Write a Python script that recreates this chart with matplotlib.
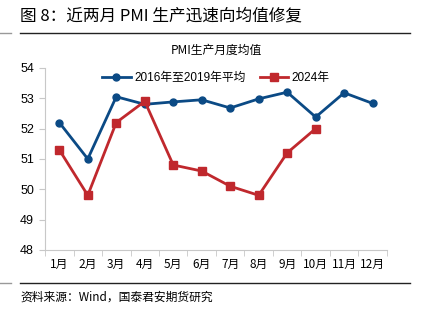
import matplotlib.pyplot as plt
import numpy as np

plt.rcParams['font.family'] = ['Liberation Sans', 'Noto Sans CJK SC']

months = ['1月', '2月', '3月', '4月', '5月', '6月', '7月', '8月', '9月', '10月', '11月', '12月']
avg_2016_2019 = [52.2, 51.0, 53.05, 52.8, 52.88, 52.95, 52.68, 52.98, 53.2, 52.38, 53.18, 52.83]
pmi_2024 = [51.3, 49.8, 52.2, 52.9, 50.8, 50.6, 50.1, 49.8, 51.2, 52.0]

BLUE = '#0b4a85'
RED = '#c0282d'

fig = plt.figure(figsize=(4.21, 3.25), dpi=100)
ax = fig.add_axes([0.107, 0.231, 0.812, 0.56])

x = np.arange(len(months))
ax.plot(x, avg_2016_2019, color=BLUE, lw=2.0, marker='o', ms=5, label='2016年至2019年平均')
ax.plot(x[:len(pmi_2024)], pmi_2024, color=RED, lw=2.0, marker='s', ms=5.5, label='2024年')

ax.set_xlim(-0.5, 11.5)
ax.set_ylim(48, 54)
ax.set_yticks(range(48, 55))
ax.set_xticks(x)
ax.set_xticklabels(months, fontsize=8.5, family=['Noto Sans CJK SC'])
ax.set_xticks(np.arange(-0.5, 12, 1), minor=True)
ax.tick_params(axis='x', which='major', length=0, pad=6)
ax.tick_params(axis='x', which='minor', length=4, color='#c8c8c8')
ax.tick_params(axis='y', length=4, color='#c8c8c8', labelsize=9, pad=4)

for side in ['top', 'right']:
    ax.spines[side].set_visible(False)
for side in ['left', 'bottom']:
    ax.spines[side].set_color('#c8c8c8')
    ax.spines[side].set_linewidth(0.8)

ax.legend(loc='upper center', bbox_to_anchor=(0.5, 1.035), ncol=2, frameon=False,
          handlelength=2.4, columnspacing=1.2, handletextpad=0.3,
          prop={'family': ['Liberation Sans', 'Noto Sans CJK SC'], 'size': 8.5})

ax.set_title('PMI生产月度均值', fontsize=8.5, pad=10, family=['Noto Sans CJK SC'])

fig.text(0.048, 0.952, '图 8：近两月 PMI 生产迅速向均值修复', fontsize=12,
         family=['Noto Sans CJK SC'], va='center', ha='left')
fig.add_artist(plt.Line2D([0.048, 0.975], [0.9, 0.9], color='#222222', lw=1.0))
fig.add_artist(plt.Line2D([0.0, 0.025], [0.9, 0.9], color='#999999', lw=1.0))
fig.add_artist(plt.Line2D([0.048, 0.975], [0.13, 0.13], color='#222222', lw=1.0))
fig.add_artist(plt.Line2D([0.0, 0.025], [0.13, 0.13], color='#999999', lw=1.0))
fig.text(0.048, 0.085, '资料来源：Wind，国泰君安期货研究', fontsize=8.5,
         family=['Noto Sans CJK SC'], va='center', ha='left')

fig.savefig('out.png', dpi=100)
